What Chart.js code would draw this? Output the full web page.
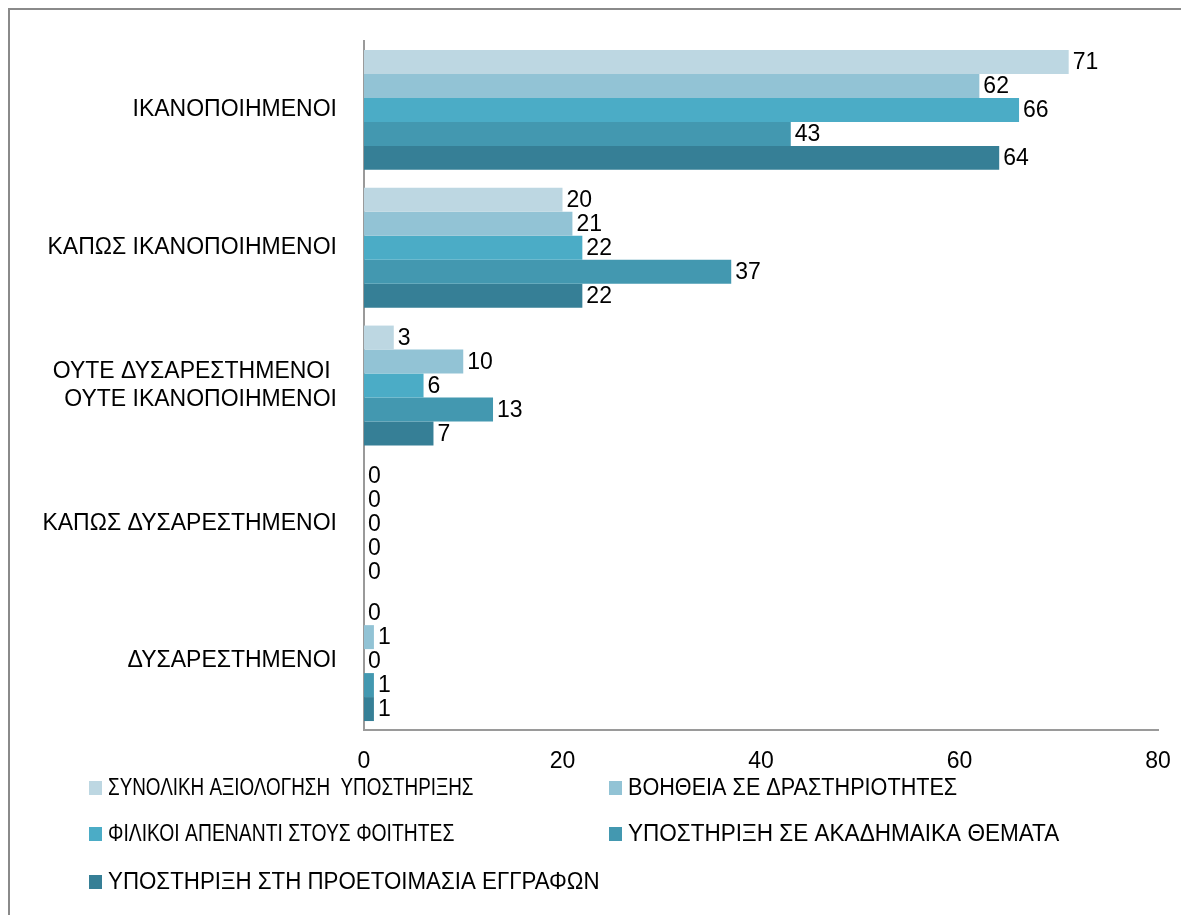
<!DOCTYPE html>
<html>
<head>
<meta charset="utf-8">
<script src="https://cdn.jsdelivr.net/npm/chart.js@4.4.1/dist/chart.umd.min.js"></script>
<style>
  html, body { margin: 0; padding: 0; background: #fff; overflow: hidden; }
  #frame { position: absolute; left: 8px; top: 8px; width: 1300px; height: 1000px;
           border-left: 2px solid #8a8a8a; border-top: 2px solid #8a8a8a; }
  #wrap { position: absolute; left: 0; top: 0; width: 1181px; height: 915px; }
</style>
</head>
<body>
<div id="frame"></div>
<div id="wrap"><canvas id="myChart" width="1181" height="915"></canvas></div>
<script>
// categories (top to bottom)
var categories = [
  'ΙΚΑΝΟΠΟΙΗΜΕΝΟΙ',
  'ΚΑΠΩΣ ΙΚΑΝΟΠΟΙΗΜΕΝΟΙ',
  ['ΟΥΤΕ ΔΥΣΑΡΕΣΤΗΜΕΝΟΙ ', 'ΟΥΤΕ ΙΚΑΝΟΠΟΙΗΜΕΝΟΙ'],
  'ΚΑΠΩΣ ΔΥΣΑΡΕΣΤΗΜΕΝΟΙ',
  'ΔΥΣΑΡΕΣΤΗΜΕΝΟΙ'
];

var seriesNames = [
  'ΣΥΝΟΛΙΚΗ ΑΞΙΟΛΟΓΗΣΗ  ΥΠΟΣΤΗΡΙΞΗΣ',
  'ΒΟΗΘΕΙΑ ΣΕ ΔΡΑΣΤΗΡΙΟΤΗΤΕΣ',
  'ΦΙΛΙΚΟΙ ΑΠΕΝΑΝΤΙ ΣΤΟΥΣ ΦΟΙΤΗΤΕΣ',
  'ΥΠΟΣΤΗΡΙΞΗ ΣΕ ΑΚΑΔΗΜΑΙΚΑ ΘΕΜΑΤΑ',
  'ΥΠΟΣΤΗΡΙΞΗ ΣΤΗ ΠΡΟΕΤΟΙΜΑΣΙΑ ΕΓΓΡΑΦΩΝ'
];

var synoliki   = [71, 20, 3, 0, 0];
var voitheia   = [62, 21, 10, 0, 1];
var filikoi    = [66, 22, 6, 0, 0];
var akadimaika = [43, 37, 13, 0, 1];
var eggrafa    = [64, 22, 7, 0, 1];

var xTicks = [0, 20, 40, 60, 80];

var colors = ['#bdd7e2', '#92c3d5', '#4bacc6', '#4398b0', '#367f96'];
var FONT = 'Liberation Sans';

var allSeries = [synoliki, voitheia, filikoi, akadimaika, eggrafa];
var datasets = [];
for (var i = 0; i < allSeries.length; i++) {
  datasets.push({
    label: seriesNames[i],
    data: allSeries[i],
    backgroundColor: colors[i],
    borderWidth: 0,
    categoryPercentage: 0.87,
    barPercentage: 1.0
  });
}

// value labels next to each bar
var valueLabels = {
  id: 'valueLabels',
  afterDatasetsDraw: function(chart) {
    var ctx = chart.ctx;
    ctx.save();
    ctx.font = '23px "' + FONT + '"';
    ctx.fillStyle = '#000';
    ctx.textAlign = 'left';
    ctx.textBaseline = 'middle';
    chart.data.datasets.forEach(function(ds, di) {
      chart.getDatasetMeta(di).data.forEach(function(bar, j) {
        ctx.fillText(String(ds.data[j]), bar.x + 4, bar.y + 1);
      });
    });
    ctx.restore();
  }
};

// legend in two columns under the axis
var gridLegend = {
  id: 'gridLegend',
  afterDraw: function(chart) {
    var ctx = chart.ctx;
    var colX = [89, 609];
    var rowY = [788, 834, 882];
    // some legend entries are set tighter than others in the original
    var squeeze = [0.82, 0.94, 0.84, 0.98, 0.97];
    ctx.save();
    ctx.font = '23px "' + FONT + '"';
    ctx.textBaseline = 'middle';
    ctx.textAlign = 'left';
    chart.data.datasets.forEach(function(ds, i) {
      var x = colX[i % 2];
      var y = rowY[Math.floor(i / 2)];
      ctx.fillStyle = ds.backgroundColor;
      ctx.fillRect(x, y - 7, 13, 14);
      ctx.fillStyle = '#000';
      ctx.save();
      ctx.translate(x + 19, y + 1);
      ctx.scale(squeeze[i], 1);
      ctx.fillText(ds.label, 0, 0);
      ctx.restore();
    });
    ctx.restore();
  }
};

var chart = new Chart(document.getElementById('myChart'), {
  type: 'bar',
  data: { labels: categories, datasets: datasets },
  plugins: [valueLabels, gridLegend],
  options: {
    indexAxis: 'y',
    responsive: false,
    animation: false,
    layout: { padding: { top: 40, right: 23, bottom: 135, left: 0 } },
    plugins: {
      legend: { display: false },
      tooltip: { enabled: false }
    },
    scales: {
      x: {
        min: 0,
        max: 80,
        afterBuildTicks: function(axis) {
          axis.ticks = xTicks.map(function(v) { return { value: v }; });
        },
        afterFit: function(axis) {
          axis.height = 50;
          axis.paddingLeft = 0;
          axis.paddingRight = 0;
        },
        grid: { display: false, drawTicks: false },
        border: { display: true, color: '#9a9a9a', width: 2 },
        ticks: { color: '#000', padding: 18, font: { family: FONT, size: 23 } }
      },
      y: {
        afterFit: function(axis) { axis.width = 364; },
        grid: { display: false, drawTicks: false },
        border: { display: true, color: '#9a9a9a', width: 2 },
        ticks: { color: '#000', padding: 27, font: { family: FONT, size: 23, lineHeight: 1.22 } }
      }
    }
  }
});
</script>
</body>
</html>
